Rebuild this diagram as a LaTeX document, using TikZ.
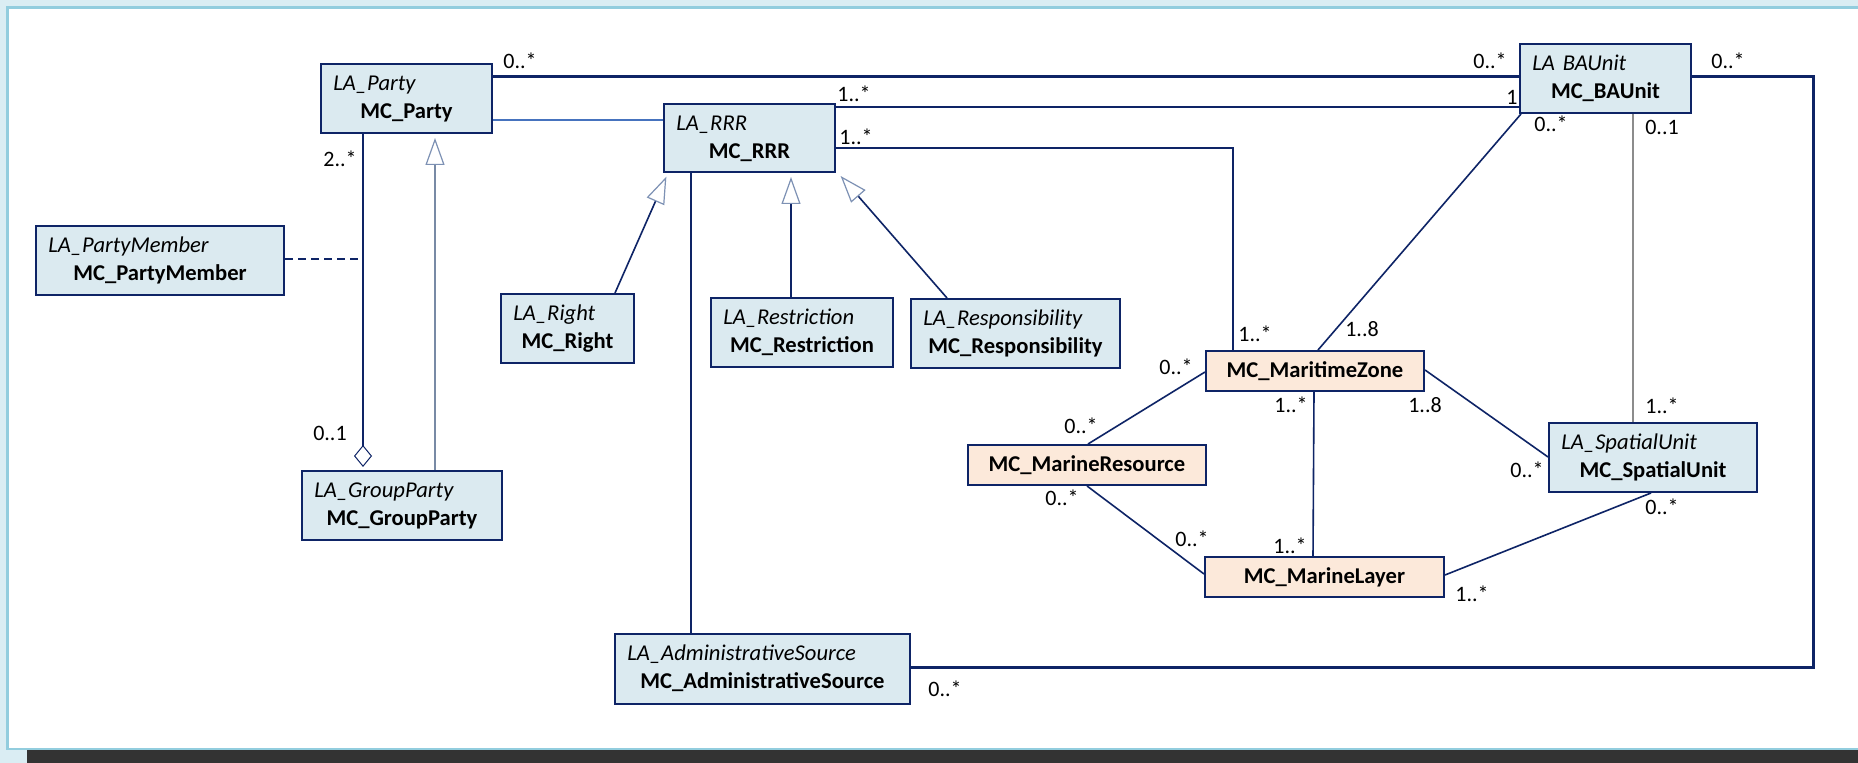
\documentclass[tikz,border=0pt]{standalone}
\usepackage{fontspec}
\setmainfont{Carlito}
\usetikzlibrary{arrows.meta,calc}
\definecolor{navy}{RGB}{14,36,102}
\definecolor{boxfill}{RGB}{219,234,240}
\definecolor{peach}{RGB}{252,233,218}
\definecolor{lightln}{RGB}{70,115,190}
\definecolor{grayln}{RGB}{140,140,140}
\definecolor{genln}{RGB}{120,138,165}
\definecolor{headln}{RGB}{125,145,180}
\definecolor{bgblue}{RGB}{218,237,243}
\definecolor{frameln}{RGB}{146,205,222}
\definecolor{darkbar}{RGB}{51,51,51}
\tikzset{
  cls/.style={draw=navy, line width=1pt, fill=boxfill, inner sep=0pt, anchor=north west},
  mcbox/.style={draw=navy, line width=1pt, fill=peach, inner sep=0pt, anchor=north west,
    font=\fontsize{11.3}{13}\selectfont\bfseries},
  itl/.style={font=\fontsize{11.3}{13}\selectfont\itshape, inner sep=0pt, anchor=base west},
  bld/.style={font=\fontsize{11.3}{13}\selectfont\bfseries, inner sep=0pt, anchor=base},
  lbl/.style={font=\fontsize{11}{13}\selectfont, inner sep=0pt, anchor=base},
  assoc/.style={draw=navy, line width=0.8pt},
  heavy/.style={draw=navy, line width=1.5pt},
  thinlight/.style={draw=lightln, line width=0.6pt},
  grayassoc/.style={draw=grayln, line width=0.6pt},
  gen/.style={draw=navy, line width=0.8pt,
    -{Triangle[open, length=13.5pt, width=9.5pt, color=headln, line width=0.6pt]}, shorten >=2pt},
  gengray/.style={draw=genln, line width=0.8pt,
    -{Triangle[open, length=13.5pt, width=9.5pt, color=headln, line width=0.6pt]}, shorten >=2pt},
  aggr/.style={draw=navy, line width=0.8pt,
    -{Diamond[open, length=11pt, width=9pt, color=navy, line width=0.5pt]}, shorten >=1.5pt},
  dashlink/.style={draw=navy, line width=0.8pt, dash pattern=on 4pt off 2.5pt},
}
\newcommand\umlcls[7]{%
  \node[cls, minimum width=#4*0.5pt, minimum height=#5*0.5pt] (#1) at (#2,#3) {};
  \node[itl] (#1-i) at ($(#1.north west)+(13,28)$) {#6};
  \node[bld] (#1-b) at ($(#1.north)+(0,56)$) {#7};
}
\newcommand\mult[4]{\node[lbl] (#1) at (#2,#3) {#4};}
\begin{document}
\begin{tikzpicture}[x=0.5pt, y=-0.5pt]
% background and frame
\useasboundingbox (0,0) rectangle (1858,763);
\fill[bgblue] (0,0) rectangle (1858,763);
\fill[white] (9,9) rectangle (1858,748);
\draw[frameln, line width=1.2pt] (1858,7.5) -- (7.5,7.5) -- (7.5,749) -- (1858,749);
\fill[darkbar] (27,750) rectangle (1858,763);

% classes
\umlcls{party}{320}{63}{171}{69}{LA\_Party}{MC\_Party}
\umlcls{baunit}{1519}{43}{171}{69}{LA\hspace{0.35em}BAUnit}{MC\_BAUnit}
\umlcls{rrr}{663}{103}{171}{68}{LA\_RRR}{MC\_RRR}
\umlcls{pm}{35}{225}{248}{69}{LA\_PartyMember}{MC\_PartyMember}
\umlcls{right}{500}{293}{133}{69}{LA\_Right}{MC\_Right}
\umlcls{restr}{710}{297}{182}{69}{LA\_Restriction}{MC\_Restriction}
\umlcls{resp}{910}{298}{209}{69}{LA\_Responsibility}{MC\_Responsibility}
\umlcls{gp}{301}{470}{200}{69}{LA\_GroupParty}{MC\_GroupParty}
\umlcls{admin}{614}{633}{295}{70}{LA\_AdministrativeSource}{MC\_AdministrativeSource}
\umlcls{su}{1548}{422}{208}{69}{LA\_SpatialUnit}{MC\_SpatialUnit}
\node[mcbox, minimum width=109pt, minimum height=20pt] (mz) at (1205,350) {MC\_MaritimeZone};
\node[mcbox, minimum width=119pt, minimum height=20pt] (mr) at (967,444) {MC\_MarineResource};
\node[mcbox, minimum width=119.5pt, minimum height=20pt] (ml) at (1204,556) {MC\_MarineLayer};

% connectors
\coordinate (outerT) at (1813,77);
\coordinate (pmj) at (363,259);
\draw[heavy] ($(party.north east)+(0,14)$) -- ($(baunit.north west)+(0,34)$);
\draw[thinlight] ($(party.north east)+(0,57)$) -- ($(rrr.north west)+(0,17)$);
\draw[assoc] ($(rrr.north east)+(0,4)$) -- ($(baunit.north west)+(0,64)$);
\draw[assoc] ($(rrr.north east)+(0,45)$) -| ($(mz.north west)+(28,0)$);
\draw[assoc] ($(rrr.south west)+(28,0)$) -- ($(admin.north west)+(77,0)$);
\draw[heavy] ($(admin.north east)+(0,35)$) -| (outerT) -- ($(baunit.north east)+(0,34)$);
\draw[assoc] ($(baunit.south west)+(2,0)$) -- ($(mz.north west)+(113,0)$);
\draw[grayassoc] ($(baunit.south west)+(114,0)$) -- ($(su.north west)+(85,0)$);
\draw[assoc] ($(mz.north west)+(0,22)$) -- ($(mr.north west)+(121,0)$);
\draw[assoc] ($(mz.north east)+(0,20)$) -- ($(su.north west)+(0,35)$);
\draw[assoc] ($(mz.south west)+(109,0)$) -- ($(ml.north west)+(109,0)$);
\draw[assoc] ($(mr.south west)+(120,0)$) -- ($(ml.north west)+(0,18)$);
\draw[assoc] ($(su.south west)+(103,0)$) -- ($(ml.north east)+(0,19)$);
\draw[aggr] ($(party.south west)+(43,0)$) -- ($(gp.north west)+(62,0)$);
\draw[dashlink] ($(pm.north east)+(0,34)$) -- (pmj);
\draw[gengray] ($(gp.north west)+(134,0)$) -- ($(party.south west)+(115,0)$);
\draw[gen] ($(right.north west)+(115,0)$) -- ($(rrr.south west)+(5,0)$);
\draw[gen] ($(restr.north west)+(81,0)$) -- ($(rrr.south west)+(128,0)$);
\draw[gen] ($(resp.north west)+(37,0)$) -- ($(rrr.south east)+(2,0)$);

% multiplicities
\mult{m1}{520}{69}{0..*}
\mult{m2}{1490}{69}{0..*}
\mult{m3}{1728}{69}{0..*}
\mult{m4}{1512}{105}{1}
\mult{m5}{854}{102}{1..*}
\mult{m6}{856}{145}{1..*}
\mult{m7}{1551}{132}{0..*}
\mult{m8}{1662}{135}{0..1}
\mult{m9}{340}{167}{2..*}
\mult{m10}{330}{441}{0..1}
\mult{m11}{1255}{342}{1..*}
\mult{m12}{1362}{337}{1..8}
\mult{m13}{1176}{375}{0..*}
\mult{m14}{1081}{434}{0..*}
\mult{m15}{1291}{413}{1..*}
\mult{m16}{1425}{413}{1..8}
\mult{m17}{1527}{478}{0..*}
\mult{m18}{1662}{414}{1..*}
\mult{m19}{1662}{515}{0..*}
\mult{m20}{1062}{506}{0..*}
\mult{m21}{1192}{547}{0..*}
\mult{m22}{1290}{554}{1..*}
\mult{m23}{1472}{602}{1..*}
\mult{m24}{945}{697}{0..*}
\end{tikzpicture}
\end{document}
